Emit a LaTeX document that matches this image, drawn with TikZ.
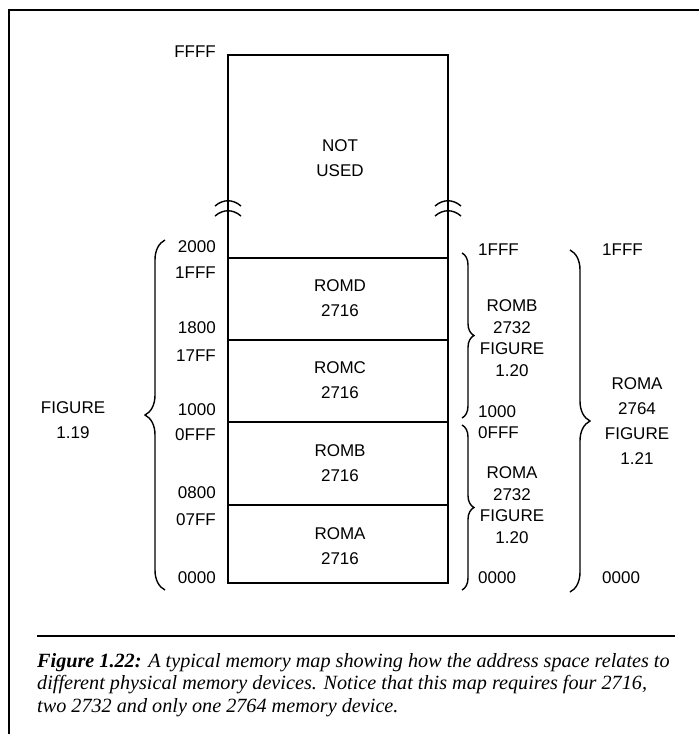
\documentclass[tikz,border=0pt]{standalone}
\usepackage{fontspec}
\setmainfont{Liberation Serif}
\setsansfont{Liberation Sans}
\usetikzlibrary{decorations.pathreplacing}

\begin{document}
\begin{tikzpicture}[x=1pt,y=-1pt,
    lbl/.style={font=\sffamily\fontsize{17}{25}\selectfont, inner sep=0pt, align=center},
    grp/.style={font=\sffamily\fontsize{17}{21.7}\selectfont, inner sep=0pt, align=center},
    brc/.style={decorate, decoration={brace, amplitude=#1}, line width=1.4pt}]
        \useasboundingbox (0,0) rectangle (699,734);
        \draw[line width=2.5pt] (9,734) -- (9,10) -- (699,10);
        % memory map
        \draw[line width=2.8pt] (228,55) rectangle (448,583);
        \foreach \y in {258,340,422,505} \draw[line width=2.2pt] (228,\y) -- (448,\y);
        \foreach \x in {228,448} {
            \draw[line width=1.4pt] (\x-13,206) .. controls (\x-5,199) and (\x+5,199) .. (\x+13,206);
            \draw[line width=1.4pt] (\x-13,216) .. controls (\x-5,209) and (\x+5,209) .. (\x+13,216);
        }
        \node[lbl](nu)at(340,158){NOT\\USED};
        \node[lbl](rd)at(340,298){ROMD\\2716};
        \node[lbl](rc)at(340,380){ROMC\\2716};
        \node[lbl](rb)at(340,463){ROMB\\2716};
        \node[lbl](ra)at(340,546){ROMA\\2716};
        % addresses
        \foreach \t/\y in {FFFF/52,2000/247,1FFF/273,1800/328,17FF/356,1000/410,0FFF/435,0800/493,07FF/520,0000/578}
            \node[lbl,anchor=east](l\t)at(216,\y){\t};
        \foreach \t/\y in {1FFF/250,1000/412,0FFF/433,0000/578}
            \node[lbl,anchor=west](m\t)at(478,\y){\t};
        \foreach \t/\y in {1FFF/250,0000/578}
            \node[lbl,anchor=west](r\t)at(602,\y){\t};
        % braces
        \draw[brc=20] (165,590) -- (165,240);
        \draw[brc=12] (462,253) -- (462,418);
        \draw[brc=12] (462,425) -- (462,590);
        \draw[brc=20] (570,250) -- (570,592);
        \node[lbl](f19)at(73,420){FIGURE\\1.19};
        \node[grp](g2)at(512,338){ROMB\\2732\\FIGURE\\1.20};
        \node[grp](g1)at(512,505){ROMA\\2732\\FIGURE\\1.20};
        \node[lbl](g3)at(637,421){ROMA\\2764\\FIGURE\\1.21};
        % caption
        \draw[line width=2pt] (37,636) -- (675,636);
        \node[anchor=north west, align=left, inner sep=0pt, font=\itshape\fontsize{20.2}{22.5}\selectfont](cap)at(37,653)
            {\textbf{Figure 1.22:} A typical memory map showing how the address space relates to\\
             different physical memory devices. Notice that this map requires four 2716,\\
             two 2732 and only one 2764 memory device.};
\end{tikzpicture}
\end{document}
